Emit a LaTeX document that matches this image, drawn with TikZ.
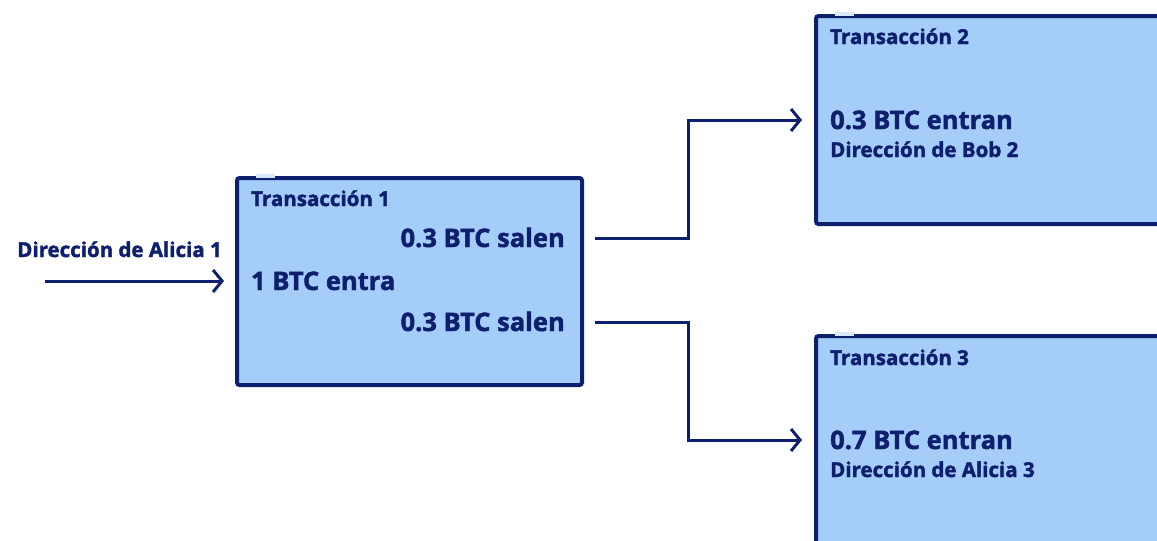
\documentclass[tikz,border=0pt]{standalone}
\usepackage{fontspec}
\setmainfont{Open Sans}
\newfontfamily\heavyfont{Open Sans}[FakeBold=1.8]
\usetikzlibrary{arrows.meta}
\definecolor{navy}{HTML}{0E1F6E}
\definecolor{boxfill}{HTML}{A5CDF9}
\tikzset{
  txbox/.style={draw=navy, fill=boxfill, line width=4pt, rounded corners=2.5pt, anchor=north west, inner sep=0pt},
  gapmark/.style={draw=boxfill!45!white, line width=4.2pt},
  title/.style={text=navy, font=\fontsize{20.5}{24}\heavyfont\bfseries, anchor=base west, inner sep=0pt},
  big/.style={text=navy, font=\fontsize{25.5}{30}\heavyfont\bfseries, inner sep=0pt},
  small/.style={text=navy, font=\fontsize{20.5}{24}\heavyfont\bfseries, anchor=base west, inner sep=0pt},
  conn/.style={draw=navy, line width=3pt, -{Straight Barb[length=9pt,width=22pt,line width=3pt]}},
}
\begin{document}
\begin{tikzpicture}[x=1pt,y=-1pt]
\useasboundingbox (0,0) rectangle (1157,541);
\clip (0,0) rectangle (1157,541);
% boxes
\node[txbox, minimum width=345pt, minimum height=207pt] (t1) at (235,176) {};
\node[txbox, minimum width=370pt, minimum height=208pt] (t2) at (814,14) {};
\node[txbox, minimum width=370pt, minimum height=240pt] (t3) at (814,334) {};
\draw[gapmark] ([xshift=21pt]t1.north west) -- ([xshift=40pt]t1.north west);
\draw[gapmark] ([xshift=21pt]t2.north west) -- ([xshift=40pt]t2.north west);
\draw[gapmark] ([xshift=21pt]t3.north west) -- ([xshift=40pt]t3.north west);
% box 1 texts
\node[title] (t1title) at (251,206) {Transacción 1};
\node[big, anchor=base east] (o1) at (565,247) {0.3 BTC salen};
\node[big, anchor=base west] (in1) at (251,290) {1 BTC entra};
\node[big, anchor=base east] (o2) at (565,331) {0.3 BTC salen};
% input
\node[small, anchor=base east] (alice1) at (222,257) {Dirección de Alicia 1};
\coordinate (src) at (45,281);
\coordinate (in1tip) at (224,281);
\draw[conn] (src) -- (in1tip);
% box 2 texts
\node[title] (t2title) at (830,44) {Transacción 2};
\node[big, anchor=base west] (i2) at (830,129) {0.3 BTC entran};
\node[small] (bob2) at (830,157) {Dirección de Bob 2};
% box 3 texts
\node[title] (t3title) at (830,365) {Transacción 3};
\node[big, anchor=base west] (i3) at (830,449) {0.7 BTC entran};
\node[small] (alice3) at (830,477) {Dirección de Alicia 3};
% connectors
\coordinate (o1s) at (595,238);
\coordinate (o2s) at (595,322);
\coordinate (i2t) at (802,120);
\coordinate (i3t) at (802,440);
\draw[conn] (o1s) -- (688,238) |- (i2t);
\draw[conn] (o2s) -- (688,322) |- (i3t);
\end{tikzpicture}
\end{document}
